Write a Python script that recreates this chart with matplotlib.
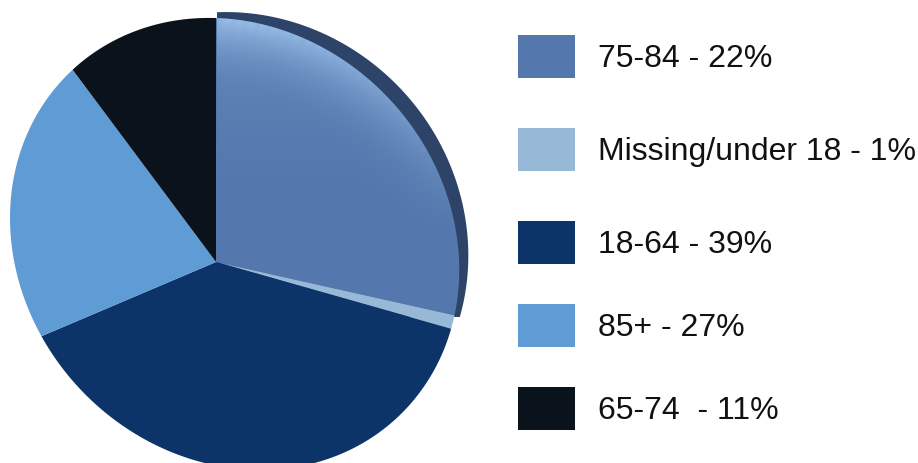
import numpy as np
import matplotlib
matplotlib.use('Agg')
import matplotlib.pyplot as plt
from matplotlib.colors import to_rgb
from matplotlib.patches import Rectangle, Polygon

labels = ['75-84 - 22%', 'Missing/under 18 - 1%', '18-64 - 39%', '85+ - 27%', '65-74  - 11%']
# slice sizes as drawn in the picture (they differ from the legend text)
values = [28.5, 0.9, 39.2, 21.2, 10.2]
colors = ['#5478ad', '#98b8d8', '#0c3468', '#5f9bd4', '#0a121c']
legend_y = [56, 149, 242, 325, 408]

W, H = 918, 463

# points on the edge of the tilted disc and of its rim, in pixels of the reference
disc_x = [217, 167, 117, 73, 33, 15, 12, 23, 43, 73, 110, 150, 217, 320, 363, 407, 433, 451, 456, 458, 457, 417, 333]
disc_y = [16, 20, 40, 70, 113, 187, 230, 296, 335, 380, 420, 443, 466, 463, 440, 406, 366, 330, 316, 270, 213, 130, 63]
rim_x = [233, 333, 400, 450, 467, 463, 455, 167, 117, 73, 33, 15, 12, 23, 43, 73, 110, 150, 320, 363, 407, 433]
rim_y = [13, 37, 80, 147, 227, 277, 317, 20, 40, 70, 113, 187, 230, 296, 335, 380, 420, 443, 463, 440, 406, 366]

plt.rcParams['font.family'] = ['Liberation Sans', 'DejaVu Sans']


def fit_ellipse(xs, ys, n=360):
    # least squares conic through the points, returned as an outline
    x = np.array(xs, float)
    y = np.array(ys, float)
    x0, y0 = x.mean(), y.mean()
    u, v = x - x0, y - y0
    A = np.column_stack([u * u, u * v, v * v, u, v])
    a, b, c, d, e = np.linalg.lstsq(A, np.ones_like(u), rcond=None)[0]
    Q = np.array([[a, b / 2], [b / 2, c]])
    cen = np.linalg.solve(2 * Q, [-d, -e])
    k = 1 + cen @ Q @ cen
    vals, vecs = np.linalg.eigh(Q / k)
    t = np.linspace(0, 2 * np.pi, n, endpoint=False)
    pts = vecs @ np.vstack([np.cos(t) / np.sqrt(vals[0]), np.sin(t) / np.sqrt(vals[1])])
    return np.column_stack([pts[0] + cen[0] + x0, pts[1] + cen[1] + y0])


fig = plt.figure(figsize=(W / 100, H / 100), dpi=100)
fig.patch.set_facecolor('white')
ax = fig.add_axes([0, 0, 1, 1])

# y runs upwards here, pixel rows are turned with H - y
wedges, _ = ax.pie(values, colors=colors, startangle=90, counterclock=False,
                   center=(216, H - 262), radius=400,
                   wedgeprops={'linewidth': 0, 'zorder': 2})
ax.set_aspect('auto')

# rim only shows at the upper right
rim = fit_ellipse(rim_x, rim_y)
rim_patch = Polygon(np.column_stack([rim[:, 0], H - rim[:, 1] - 3]), fc='#2d4468', ec='none', zorder=1)
ax.add_patch(rim_patch)
box = Rectangle((217, H - 317), 300, 317)
rim_patch.set_clip_path(box.get_path().transformed(box.get_patch_transform()), ax.transData)

# the wedges meet off-centre, so they are drawn big and clipped to the disc
outline = fit_ellipse(disc_x, disc_y)
disc_path = Polygon(np.column_stack([outline[:, 0], H - outline[:, 1]])).get_path()
for w in wedges:
    w.set_clip_on(True)  # pie turns clipping off
    w.set_clip_path(disc_path, ax.transData)

# light glow along the upper edge of the first slice
arc = outline[(outline[:, 0] > 217) & (outline[:, 1] < 300)]
yy, xx = np.mgrid[0:H, 0:W]
dist = np.full((H, W), 1e3)
for px, py in arc[::3]:
    dist[:300, 217:] = np.minimum(dist[:300, 217:], np.hypot(xx[:300, 217:] - px, yy[:300, 217:] - py))
up = np.clip((230 - yy) / 215, 0, 1)
glow = np.zeros((H, W, 4))
glow[..., 0:3] = to_rgb('#a8cdf5')
glow[..., 3] = (np.clip(1 - dist / 75, 0, 1) ** 2 * 0.6 + 0.25 * up) * up
glow[xx < 217, 3] = 0
im = ax.imshow(glow, extent=(0, W, 0, H), origin='upper', zorder=3, aspect='auto')
im.set_clip_path(disc_path, ax.transData)

ax.set_xlim(0, W)
ax.set_ylim(0, H)
ax.axis('off')

for y, lab, c in zip(legend_y, labels, colors):
    ax.add_patch(Rectangle((518, H - y - 22), 57, 43, color=c, lw=0))
    ax.text(598, H - y - 3, lab, fontsize=23, va='center', ha='left', color='#111111')

fig.savefig('out.png', dpi=100)
